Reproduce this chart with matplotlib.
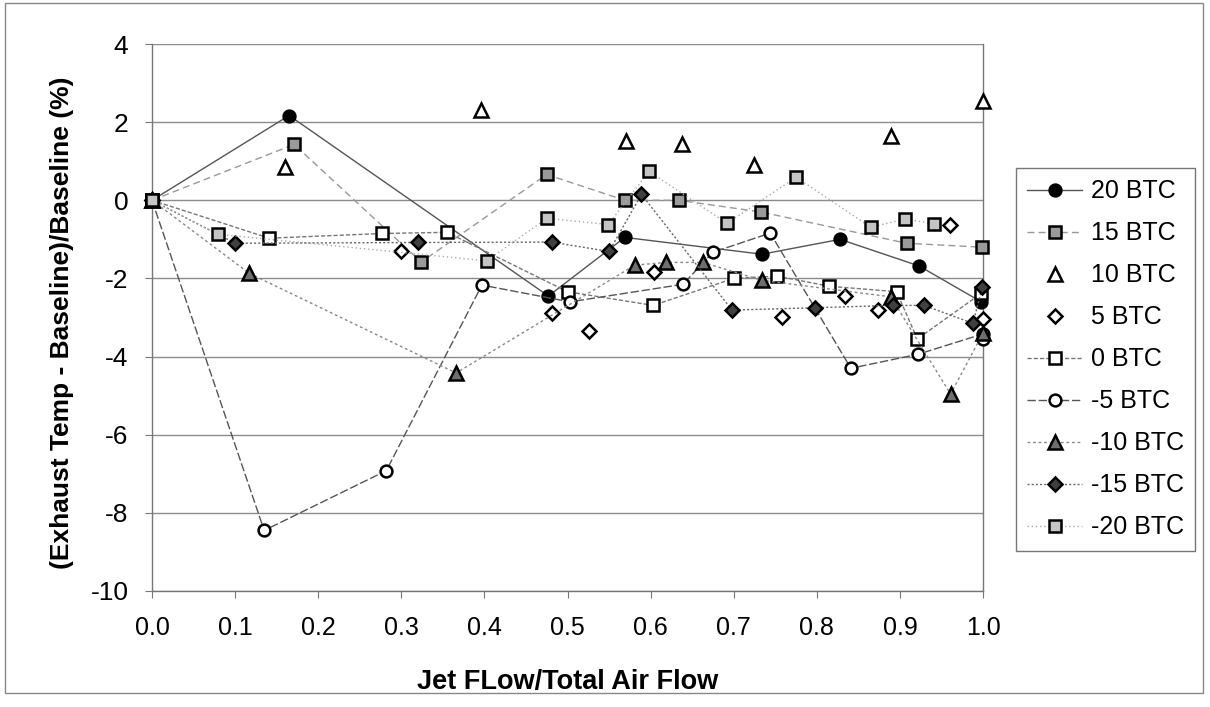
import matplotlib
matplotlib.use('Agg')
import matplotlib.pyplot as plt
from matplotlib.patches import Rectangle

plt.rcParams['font.family'] = ['Liberation Sans', 'DejaVu Sans']

x_20 = [0, 0.165, 0.477, 0.569, 0.734, 0.828, 0.923, 0.998]
y_20 = [0, 2.17, -2.45, -0.95, -1.38, -1.0, -1.68, -2.6]

x_15 = [0, 0.171, 0.324, 0.475, 0.569, 0.634, 0.733, 0.908, 0.999]
y_15 = [0, 1.43, -1.58, 0.66, 0.0, 0.0, -0.30, -1.1, -1.2]

x_10 = [0, 0.160, 0.396, 0.570, 0.638, 0.725, 0.889, 1.0]
y_10 = [0, 0.84, 2.30, 1.51, 1.43, 0.90, 1.64, 2.53]

x_5 = [0, 0.300, 0.481, 0.526, 0.604, 0.758, 0.834, 0.874, 0.960, 1.0]
y_5 = [0, -1.30, -2.88, -3.35, -1.84, -2.99, -2.45, -2.81, -0.62, -3.05]

x_0 = [0, 0.141, 0.277, 0.355, 0.50, 0.603, 0.70, 0.752, 0.815, 0.896, 0.921, 0.998]
y_0 = [0, -0.97, -0.85, -0.82, -2.34, -2.69, -2.0, -1.94, -2.2, -2.34, -3.55, -2.38]

x_m5 = [0, 0.135, 0.282, 0.397, 0.503, 0.639, 0.675, 0.744, 0.841, 0.922, 1.0, 1.0]
y_m5 = [0, -8.45, -6.92, -2.17, -2.6, -2.15, -1.33, -0.84, -4.3, -3.94, -3.42, -3.55]

x_m10 = [0, 0.117, 0.366, 0.581, 0.619, 0.663, 0.734, 0.889, 0.961, 1.0]
y_m10 = [0, -1.87, -4.42, -1.66, -1.59, -1.59, -2.05, -2.47, -4.96, -3.4]

x_m15 = [0, 0.1, 0.320, 0.481, 0.55, 0.589, 0.698, 0.798, 0.892, 0.929, 0.988, 0.999]
y_m15 = [0, -1.1, -1.08, -1.07, -1.31, 0.15, -2.81, -2.75, -2.69, -2.69, -3.15, -2.22]

x_m20 = [0, 0.079, 0.403, 0.475, 0.549, 0.598, 0.692, 0.775, 0.865, 0.906, 0.941]
y_m20 = [0, -0.87, -1.55, -0.46, -0.62, 0.74, -0.59, 0.59, -0.69, -0.48, -0.6]

labels = ['20 BTC', '15 BTC', '10 BTC', '5 BTC', '0 BTC', '-5 BTC', '-10 BTC', '-15 BTC', '-20 BTC']
xticks = [0.0, 0.1, 0.2, 0.3, 0.4, 0.5, 0.6, 0.7, 0.8, 0.9, 1.0]
yticks = [4, 2, 0, -2, -4, -6, -8, -10]

fig = plt.figure(figsize=(12.1, 7.07), dpi=100)
ax = fig.add_axes([152 / 1210, 1 - 591 / 707, 831 / 1210, 547 / 707])

# (x, y, marker, face, line style, line colour, marker size)
series = [
    (x_20, y_20, 'o', 'black', '-', '#555555', 8.5),
    (x_15, y_15, 's', '#9a9a9a', (0, (5, 3)), '#999999', 8.5),
    (x_10, y_10, '^', 'white', 'none', 'none', 9.5),
    (x_5, y_5, 'D', 'white', 'none', 'none', 7.5),
    (x_0, y_0, 's', 'white', (0, (3, 1.5)), '#777777', 8.5),
    (x_m5, y_m5, 'o', 'white', (0, (6, 2)), '#555555', 8.5),
    (x_m10, y_m10, '^', '#6e6e6e', (0, (2, 2)), '#888888', 9.5),
    (x_m15, y_m15, 'D', '#404040', (0, (1.5, 1.5)), '#666666', 7.5),
    (x_m20, y_m20, 's', '#c4c4c4', (0, (1, 2)), '#aaaaaa', 8.5),
]

for (xs, ys, mk, fc, ls, lc, ms), lab in zip(series, labels):
    ax.plot(xs, ys, linestyle=ls, color=lc, linewidth=1.0, marker=mk,
            markerfacecolor=fc, markeredgecolor='black', markeredgewidth=1.8,
            markersize=ms, label=lab, clip_on=False, zorder=3)

ax.set_xlim(0, 1.0)
ax.set_ylim(-10, 4)
ax.set_xticks(xticks)
ax.set_xticklabels(['%.1f' % v for v in xticks], fontsize=18)
ax.set_yticks(yticks)
ax.set_yticklabels([str(v) for v in yticks], fontsize=19)
ax.yaxis.grid(True, color='#8c8c8c', linewidth=1.0)
ax.set_axisbelow(True)
ax.tick_params(axis='x', direction='out', length=5, color='#777777', pad=13)
ax.tick_params(axis='y', direction='out', length=5, color='#777777', pad=12)
for s in ['left', 'bottom', 'right']:
    ax.spines[s].set_color('#777777')
    ax.spines[s].set_linewidth(1.0)
ax.spines['top'].set_visible(False)

ax.set_xlabel('Jet FLow/Total Air Flow', fontsize=19.5, fontweight='bold')
ax.xaxis.set_label_coords(0.5, -(682 - 591) / 547, transform=ax.transAxes)
ax.xaxis.label.set_va('center')
ax.set_ylabel('(Exhaust Temp - Baseline)/Baseline (%)', fontsize=19, fontweight='bold')
ax.yaxis.set_label_coords(-(152 - 62) / 831, 0.49)
ax.yaxis.label.set_va('center')

leg = ax.legend(loc='upper left', bbox_to_anchor=(1016 / 1210, 1 - 168 / 707),
                bbox_transform=fig.transFigure, borderaxespad=0, fontsize=18,
                frameon=True, fancybox=False, edgecolor='#555555',
                handlelength=2.2, labelspacing=0.72, borderpad=0.45,
                handletextpad=0.35)
leg.get_frame().set_linewidth(1.0)

fig.patches.append(Rectangle((5 / 1210, 1 - 693 / 707), 1198 / 1210, 690 / 707,
                             transform=fig.transFigure, fill=False,
                             edgecolor='#888888', linewidth=1.0))

fig.savefig('out.png', dpi=100)
